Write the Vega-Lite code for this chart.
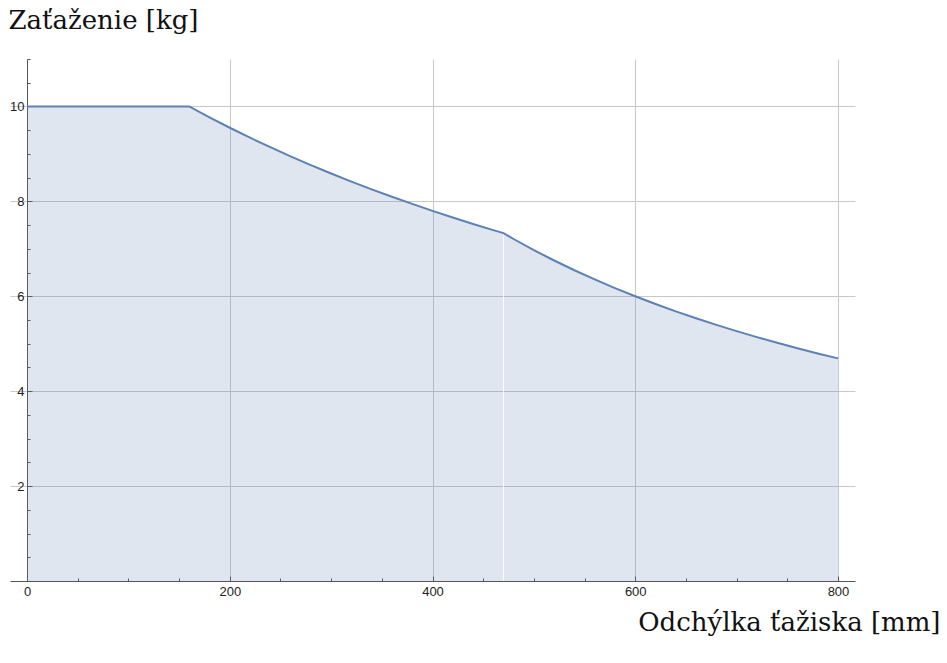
{
  "$schema": "https://vega.github.io/schema/vega-lite/v6.json",
  "autosize": "none",
  "width": 845,
  "height": 522,
  "padding": {"left": 10, "top": 59, "right": 92, "bottom": 82},
  "background": "white",
  "config": {"view": {"stroke": null}},
  "datasets": {
    "curve": [
      {"x": 0, "y": 10}, {"x": 40, "y": 10}, {"x": 80, "y": 10}, {"x": 120, "y": 10}, {"x": 160, "y": 10},
      {"x": 180, "y": 9.77}, {"x": 200, "y": 9.551}, {"x": 220, "y": 9.341}, {"x": 240, "y": 9.141},
      {"x": 260, "y": 8.948}, {"x": 280, "y": 8.764}, {"x": 300, "y": 8.587}, {"x": 320, "y": 8.417},
      {"x": 340, "y": 8.254}, {"x": 360, "y": 8.097}, {"x": 380, "y": 7.946}, {"x": 400, "y": 7.8},
      {"x": 420, "y": 7.66}, {"x": 440, "y": 7.524}, {"x": 460, "y": 7.394}, {"x": 470, "y": 7.33},
      {"x": 480, "y": 7.207}, {"x": 500, "y": 6.973}, {"x": 520, "y": 6.754}, {"x": 540, "y": 6.548},
      {"x": 560, "y": 6.355}, {"x": 580, "y": 6.172}, {"x": 600, "y": 6.0}, {"x": 620, "y": 5.837},
      {"x": 640, "y": 5.683}, {"x": 660, "y": 5.536}, {"x": 680, "y": 5.397}, {"x": 700, "y": 5.265},
      {"x": 720, "y": 5.139}, {"x": 740, "y": 5.019}, {"x": 760, "y": 4.905}, {"x": 780, "y": 4.795},
      {"x": 800, "y": 4.691}
    ],
    "seam": [{"x": 470, "y": 0, "y2": 7.33}]
  },
  "layer": [
    {
      "data": {"name": "curve"},
      "mark": {"type": "area", "color": "#5E81B5", "opacity": 0.2, "interpolate": "linear"},
      "encoding": {
        "x": {
          "field": "x", "type": "quantitative",
          "scale": {"domain": [-16.8, 816.8], "nice": false, "zero": false},
          "axis": {
            "values": [0, 50, 100, 150, 200, 250, 300, 350, 400, 450, 500, 550, 600, 650, 700, 750, 800],
            "tickCount": 200,
            "labelExpr": "datum.value % 200 === 0 ? datum.label : ''",
            "labelOverlap": false,
            "labelFont": "Liberation Sans", "labelFontSize": 13, "labelColor": "#222", "labelPadding": 9,
            "labelFlush": false,
            "tickSize": {"condition": {"test": "datum.value % 200 === 0", "value": -5}, "value": -3},
            "tickColor": "#555", "domainColor": "#555", "domainWidth": 1,
            "grid": true,
            "gridColor": "#c8c8c8",
            "gridOpacity": {"condition": {"test": "datum.value % 200 === 0 && datum.value > 0", "value": 1}, "value": 0},
            "title": "Odchýlka ťažiska [mm]",
            "titleFont": "DejaVu Serif", "titleFontSize": 26, "titleFontWeight": "normal", "titleColor": "#111",
            "titleAnchor": "end", "titleAlign": "right", "titleBaseline": "middle",
            "titleX": 930, "titleY": 41
          }
        },
        "y": {
          "field": "y", "type": "quantitative",
          "scale": {"domain": [0, 11], "nice": false},
          "axis": {
            "values": [0.5, 1, 1.5, 2, 2.5, 3, 3.5, 4, 4.5, 5, 5.5, 6, 6.5, 7, 7.5, 8, 8.5, 9, 9.5, 10, 10.5, 11],
            "tickCount": 200,
            "offset": -17,
            "labelExpr": "(datum.value == 2 || datum.value == 4 || datum.value == 6 || datum.value == 8 || datum.value == 10) ? format(datum.value, 'd') : ''",
            "labelOverlap": false,
            "labelFont": "Liberation Sans", "labelFontSize": 13, "labelColor": "#222", "labelPadding": 8,
            "labelFlush": false,
            "tickSize": {"condition": {"test": "datum.value == 2 || datum.value == 4 || datum.value == 6 || datum.value == 8 || datum.value == 10", "value": -5}, "value": -3},
            "tickColor": "#555", "domainColor": "#555", "domainWidth": 1,
            "grid": true,
            "gridColor": "#c8c8c8",
            "gridOpacity": {"condition": {"test": "datum.value == 2 || datum.value == 4 || datum.value == 6 || datum.value == 8 || datum.value == 10", "value": 1}, "value": 0},
            "title": "Zaťaženie [kg]",
            "titleFont": "DejaVu Serif", "titleFontSize": 26, "titleFontWeight": "normal", "titleColor": "#111",
            "titleAngle": 0, "titleAlign": "left", "titleBaseline": "middle",
            "titleX": -19, "titleY": -39
          }
        }
      }
    },
    {
      "data": {"name": "seam"},
      "mark": {"type": "rule", "color": "white", "strokeWidth": 1, "opacity": 0.9},
      "encoding": {
        "x": {"field": "x", "type": "quantitative"},
        "y": {"field": "y", "type": "quantitative"},
        "y2": {"field": "y2"}
      }
    },
    {
      "data": {"name": "curve"},
      "mark": {"type": "line", "color": "#5E81B5", "strokeWidth": 2, "interpolate": "linear"},
      "encoding": {
        "x": {"field": "x", "type": "quantitative"},
        "y": {"field": "y", "type": "quantitative"}
      }
    }
  ]
}
